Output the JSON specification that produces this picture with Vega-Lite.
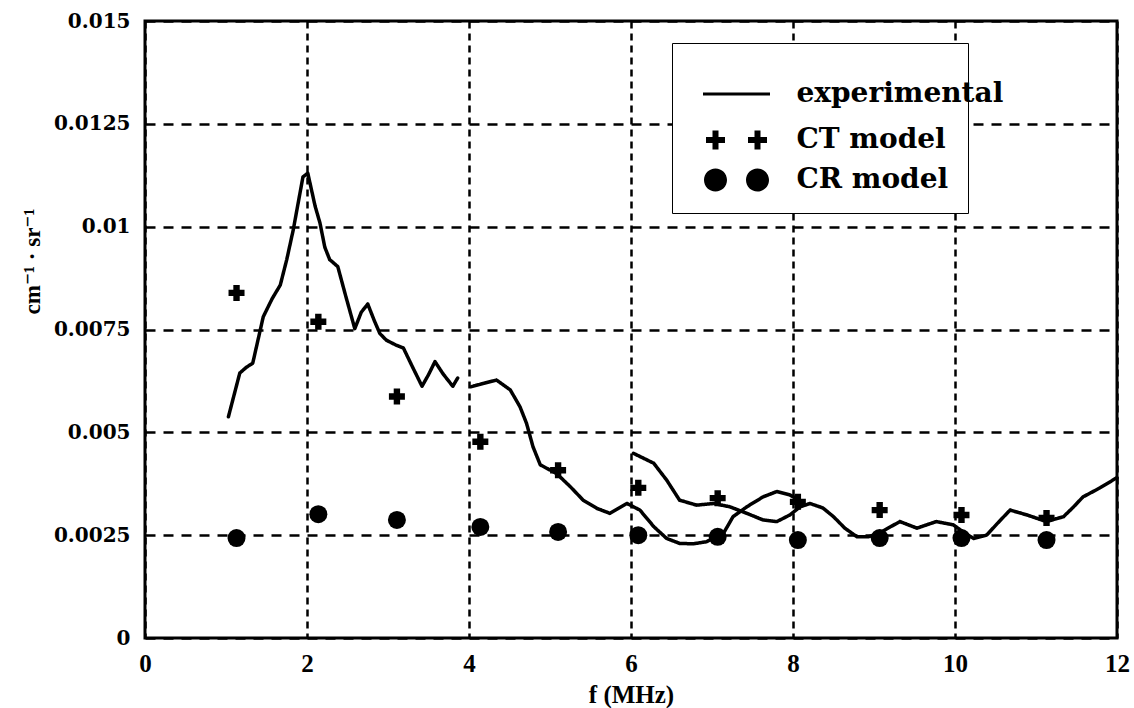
{
  "$schema": "https://vega.github.io/schema/vega-lite/v6.json",
  "width": 972,
  "height": 617,
  "autosize": {"type": "none"},
  "padding": {"left": 145, "top": 21, "right": 17, "bottom": 70},
  "background": "white",
  "config": {
    "view": {"stroke": "black", "strokeWidth": 3},
    "axis": {"domain": false, "ticks": false, "gridColor": "black", "gridOpacity": 1, "gridWidth": 2.5, "labelColor": "black", "titleColor": "black"},
    "legend": {"labelFont": "DejaVu Serif", "labelFontWeight": "bold", "labelFontSize": 28, "labelColor": "black", "labelLimit": 400, "symbolSize": 400, "symbolOffset": 31.5, "labelOffset": 46, "orient": "none"}
  },
  "datasets": {
    "exp": [
      {"f": 1.03, "v": 0.00538, "seg": "a"},
      {"f": 1.17, "v": 0.00644, "seg": "a"},
      {"f": 1.25, "v": 0.00658, "seg": "a"},
      {"f": 1.33, "v": 0.00668, "seg": "a"},
      {"f": 1.46, "v": 0.00781, "seg": "a"},
      {"f": 1.57, "v": 0.00825, "seg": "a"},
      {"f": 1.67, "v": 0.00858, "seg": "a"},
      {"f": 1.75, "v": 0.00920, "seg": "a"},
      {"f": 1.83, "v": 0.00992, "seg": "a"},
      {"f": 1.95, "v": 0.01121, "seg": "a"},
      {"f": 2.01, "v": 0.01130, "seg": "a"},
      {"f": 2.1, "v": 0.01050, "seg": "a"},
      {"f": 2.16, "v": 0.01009, "seg": "a"},
      {"f": 2.22, "v": 0.00950, "seg": "a"},
      {"f": 2.28, "v": 0.00920, "seg": "a"},
      {"f": 2.38, "v": 0.00903, "seg": "a"},
      {"f": 2.48, "v": 0.00830, "seg": "a"},
      {"f": 2.59, "v": 0.00752, "seg": "a"},
      {"f": 2.67, "v": 0.00792, "seg": "a"},
      {"f": 2.75, "v": 0.00812, "seg": "a"},
      {"f": 2.83, "v": 0.00772, "seg": "a"},
      {"f": 2.9, "v": 0.00740, "seg": "a"},
      {"f": 2.98, "v": 0.00724, "seg": "a"},
      {"f": 3.1, "v": 0.00712, "seg": "a"},
      {"f": 3.19, "v": 0.00705, "seg": "a"},
      {"f": 3.3, "v": 0.00660, "seg": "a"},
      {"f": 3.42, "v": 0.00612, "seg": "a"},
      {"f": 3.5, "v": 0.00640, "seg": "a"},
      {"f": 3.58, "v": 0.00672, "seg": "a"},
      {"f": 3.68, "v": 0.00642, "seg": "a"},
      {"f": 3.8, "v": 0.00612, "seg": "a"},
      {"f": 3.86, "v": 0.00632, "seg": "a"},
      {"f": 4.03, "v": 0.00611, "seg": "b"},
      {"f": 4.18, "v": 0.00619, "seg": "b"},
      {"f": 4.34, "v": 0.00627, "seg": "b"},
      {"f": 4.51, "v": 0.00603, "seg": "b"},
      {"f": 4.63, "v": 0.00562, "seg": "b"},
      {"f": 4.71, "v": 0.00522, "seg": "b"},
      {"f": 4.79, "v": 0.00465, "seg": "b"},
      {"f": 4.88, "v": 0.00421, "seg": "b"},
      {"f": 5.08, "v": 0.00400, "seg": "b"},
      {"f": 5.25, "v": 0.00368, "seg": "b"},
      {"f": 5.41, "v": 0.00335, "seg": "b"},
      {"f": 5.58, "v": 0.00315, "seg": "b"},
      {"f": 5.74, "v": 0.00303, "seg": "b"},
      {"f": 5.95, "v": 0.00327, "seg": "b"},
      {"f": 6.11, "v": 0.00311, "seg": "b"},
      {"f": 6.28, "v": 0.00271, "seg": "b"},
      {"f": 6.44, "v": 0.00242, "seg": "b"},
      {"f": 6.6, "v": 0.00230, "seg": "b"},
      {"f": 6.77, "v": 0.00229, "seg": "b"},
      {"f": 6.93, "v": 0.00234, "seg": "b"},
      {"f": 7.14, "v": 0.00254, "seg": "b"},
      {"f": 7.26, "v": 0.00295, "seg": "b"},
      {"f": 7.43, "v": 0.00319, "seg": "b"},
      {"f": 7.63, "v": 0.00343, "seg": "b"},
      {"f": 7.8, "v": 0.00356, "seg": "b"},
      {"f": 7.96, "v": 0.00348, "seg": "b"},
      {"f": 8.12, "v": 0.00330, "seg": "b"},
      {"f": 6.03, "v": 0.00449, "seg": "c"},
      {"f": 6.28, "v": 0.00425, "seg": "c"},
      {"f": 6.44, "v": 0.00384, "seg": "c"},
      {"f": 6.6, "v": 0.00335, "seg": "c"},
      {"f": 6.81, "v": 0.00323, "seg": "c"},
      {"f": 7.02, "v": 0.00327, "seg": "c"},
      {"f": 7.22, "v": 0.00319, "seg": "c"},
      {"f": 7.43, "v": 0.00303, "seg": "c"},
      {"f": 7.63, "v": 0.00287, "seg": "c"},
      {"f": 7.8, "v": 0.00283, "seg": "c"},
      {"f": 7.96, "v": 0.00299, "seg": "c"},
      {"f": 8.09, "v": 0.00319, "seg": "c"},
      {"f": 8.21, "v": 0.00327, "seg": "c"},
      {"f": 8.37, "v": 0.00316, "seg": "c"},
      {"f": 8.5, "v": 0.00295, "seg": "c"},
      {"f": 8.64, "v": 0.00267, "seg": "c"},
      {"f": 8.79, "v": 0.00246, "seg": "c"},
      {"f": 8.93, "v": 0.00246, "seg": "c"},
      {"f": 9.07, "v": 0.00255, "seg": "c"},
      {"f": 9.2, "v": 0.00270, "seg": "c"},
      {"f": 9.32, "v": 0.00283, "seg": "c"},
      {"f": 9.53, "v": 0.00267, "seg": "c"},
      {"f": 9.77, "v": 0.00283, "seg": "c"},
      {"f": 9.98, "v": 0.00275, "seg": "c"},
      {"f": 10.1, "v": 0.00258, "seg": "c"},
      {"f": 10.23, "v": 0.00242, "seg": "c"},
      {"f": 10.39, "v": 0.00250, "seg": "c"},
      {"f": 10.53, "v": 0.00280, "seg": "c"},
      {"f": 10.68, "v": 0.00311, "seg": "c"},
      {"f": 10.89, "v": 0.00299, "seg": "c"},
      {"f": 11.13, "v": 0.00283, "seg": "c"},
      {"f": 11.34, "v": 0.00295, "seg": "c"},
      {"f": 11.46, "v": 0.00318, "seg": "c"},
      {"f": 11.58, "v": 0.00343, "seg": "c"},
      {"f": 11.79, "v": 0.00365, "seg": "c"},
      {"f": 11.95, "v": 0.00384, "seg": "c"},
      {"f": 12.0, "v": 0.00390, "seg": "c"}
    ],
    "ct": [
      {"f": 1.13, "v": 0.00839, "model": "CT model"},
      {"f": 2.14, "v": 0.00769, "model": "CT model"},
      {"f": 3.11, "v": 0.00587, "model": "CT model"},
      {"f": 4.14, "v": 0.00477, "model": "CT model"},
      {"f": 5.1, "v": 0.00408, "model": "CT model"},
      {"f": 6.09, "v": 0.00365, "model": "CT model"},
      {"f": 7.07, "v": 0.00340, "model": "CT model"},
      {"f": 8.06, "v": 0.00331, "model": "CT model"},
      {"f": 9.07, "v": 0.00311, "model": "CT model"},
      {"f": 10.08, "v": 0.00299, "model": "CT model"},
      {"f": 11.13, "v": 0.00292, "model": "CT model"}
    ],
    "cr": [
      {"f": 1.13, "v": 0.00243, "model": "CR model"},
      {"f": 2.14, "v": 0.00301, "model": "CR model"},
      {"f": 3.11, "v": 0.00287, "model": "CR model"},
      {"f": 4.14, "v": 0.00270, "model": "CR model"},
      {"f": 5.1, "v": 0.00258, "model": "CR model"},
      {"f": 6.09, "v": 0.00250, "model": "CR model"},
      {"f": 7.07, "v": 0.00246, "model": "CR model"},
      {"f": 8.06, "v": 0.00238, "model": "CR model"},
      {"f": 9.07, "v": 0.00243, "model": "CR model"},
      {"f": 10.08, "v": 0.00243, "model": "CR model"},
      {"f": 11.13, "v": 0.00238, "model": "CR model"}
    ]
  },
  "encoding": {
    "x": {
      "field": "f", "type": "quantitative",
      "scale": {"domain": [0, 12], "nice": false, "zero": false},
      "axis": {
        "values": [0, 2, 4, 6, 8, 10, 12],
        "gridDash": [7, 5],
        "labelFont": "Liberation Serif", "labelFontWeight": "bold", "labelFontSize": 25,
        "labelPadding": 13, "labelFlush": false,
        "title": "f (MHz)", "titleFont": "Liberation Serif", "titleFontWeight": "bold", "titleFontSize": 25,
        "titleX": 486, "titleY": 64, "titleBaseline": "alphabetic", "titleAlign": "center"
      }
    },
    "y": {
      "field": "v", "type": "quantitative",
      "scale": {"domain": [0, 0.015], "nice": false},
      "axis": {
        "values": [0, 0.0025, 0.005, 0.0075, 0.01, 0.0125, 0.015],
        "labelExpr": "format(datum.value, '~g')",
        "gridDash": [10, 8],
        "labelFont": "DejaVu Serif", "labelFontWeight": "bold", "labelFontSize": 20,
        "labelPadding": 15, "labelFlush": false,
        "title": "cm⁻¹ · sr⁻¹", "titleFont": "Liberation Serif, DejaVu Serif", "titleFontWeight": "bold", "titleFontSize": 23,
        "titleX": -113, "titleY": 240, "titleAngle": -90, "titleAlign": "center", "titleBaseline": "middle"
      }
    }
  },
  "layer": [
    {
      "data": {"name": "cr"},
      "mark": {"type": "point", "filled": true, "opacity": 1, "size": 324},
      "encoding": {
        "shape": {"field": "model", "type": "nominal", "scale": {"domain": ["CT model", "CR model"], "range": ["cross", "circle"]}, "legend": null},
        "fill": {
          "field": "model", "type": "nominal",
          "scale": {"domain": ["CR model"], "range": ["black"]},
          "legend": {
            "legendX": 527, "legendY": 22, "zindex": 1,
            "title": "\u00a0\u00a0\u00a0\u00a0\u00a0\u00a0\u00a0\u00a0\u00a0\u00a0\u00a0\u00a0\u00a0\u00a0\u00a0\u00a0\u00a0\u00a0\u00a0\u00a0\u00a0\u00a0\u00a0\u00a0\u00a0\u00a0\u00a0\u00a0\u00a0\u00a0\u00a0\u00a0\u00a0\u00a0\u00a0\u00a0\u00a0\u00a0\u00a0\u00a0\u00a0\u00a0\u00a0\u00a0\u00a0\u00a0\u00a0\u00a0\u00a0\u00a0\u00a0\u00a0\u00a0\u00a0\u00a0\u00a0\u00a0\u00a0\u00a0\u00a0\u00a0\u00a0\u00a0\u00a0\u00a0",
            "titleFont": "DejaVu Sans", "titleFontSize": 16, "titlePadding": 88, "titleLimit": 1000,
            "padding": 19, "strokeColor": "black", "fillColor": "white",
            "symbolType": "M-3.25,0A1.15,1.15 0 1,0 -0.95,0A1.15,1.15 0 1,0 -3.25,0Z M0.95,0A1.15,1.15 0 1,0 3.25,0A1.15,1.15 0 1,0 0.95,0Z",
            "symbolFillColor": "black"
          }
        }
      }
    },
    {
      "data": {"name": "exp"},
      "mark": {"type": "line", "color": "black", "strokeWidth": 3.5, "strokeJoin": "round", "strokeCap": "round"},
      "encoding": {
        "detail": {"field": "seg", "type": "nominal"},
        "strokeDash": {
          "datum": "experimental", "type": "nominal",
          "scale": {"domain": ["experimental"], "range": [[1, 0]]},
          "legend": {
            "legendX": 546, "legendY": 59, "zindex": 2, "title": null, "padding": 0,
            "symbolType": "M-3.35,0H3.35", "symbolStrokeWidth": 3, "symbolStrokeColor": "black"
          }
        }
      }
    },
    {
      "data": {"name": "ct"},
      "mark": {"type": "point", "filled": true, "opacity": 1, "size": 256},
      "encoding": {
        "shape": {"field": "model", "type": "nominal"},
        "color": {
          "field": "model", "type": "nominal",
          "scale": {"domain": ["CT model"], "range": ["black"]},
          "legend": {
            "legendX": 546, "legendY": 105, "zindex": 2, "title": null, "padding": 0,
            "symbolType": "M-3.05,-0.3H-2.4V-0.95H-1.8V-0.3H-1.15V0.3H-1.8V0.95H-2.4V0.3H-3.05Z M1.15,-0.3H1.8V-0.95H2.4V-0.3H3.05V0.3H2.4V0.95H1.8V0.3H1.15Z",
            "symbolFillColor": "black"
          }
        }
      }
    }
  ]
}
